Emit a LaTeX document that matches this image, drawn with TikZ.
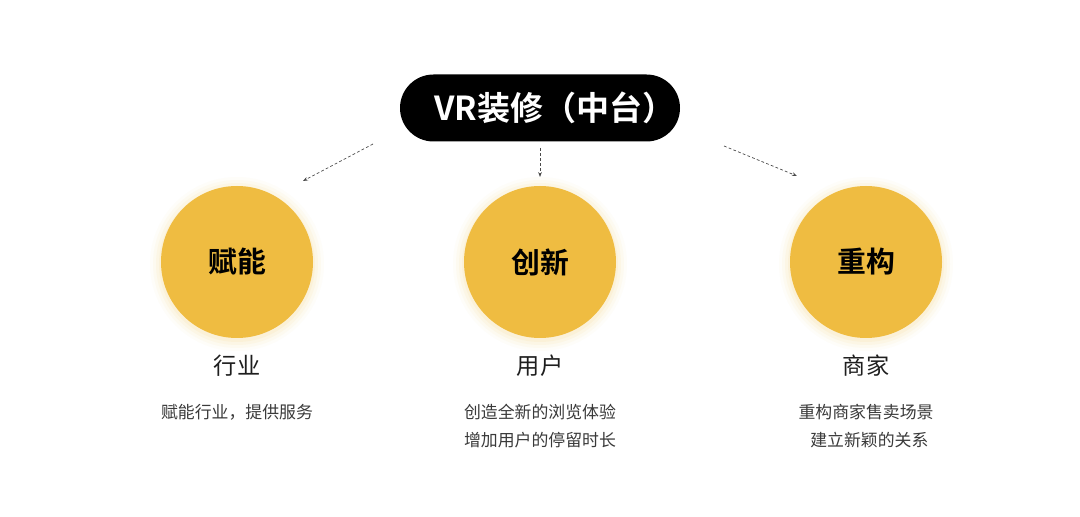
\documentclass[tikz,border=0pt]{standalone}
\usepackage{fontspec}
\setmainfont{Noto Sans CJK SC}[BoldFont={Noto Sans CJK SC Bold}]
\usetikzlibrary{arrows.meta}
\usetikzlibrary{positioning}

\definecolor{pillblack}{HTML}{000000}
\definecolor{goldfill}{HTML}{EFBC41}
\definecolor{glowfill}{HTML}{F6C65A}
\definecolor{labeltext}{HTML}{1E1E1E}
\definecolor{desctext}{HTML}{3A3A3A}
\definecolor{dashline}{HTML}{4A4A4A}

\tikzset{
	hub/.style={rectangle, rounded corners=33.5*0.025cm, fill=pillblack, text=white,
		minimum width=280*0.025cm, minimum height=67*0.025cm, inner sep=0pt,
		font=\bfseries\fontsize{23.5}{28}\selectfont},
	pillar/.style={circle, fill=goldfill, minimum size=152*0.025cm, inner sep=0pt,
		text=black, font=\bfseries\fontsize{20.5}{24}\selectfont},
	caption/.style={text=labeltext, font=\fontsize{16.5}{19}\selectfont},
	detail/.style={text=desctext, align=center, font=\fontsize{12}{19.9}\selectfont},
	link/.style={dashline, line width=0.5pt, dash pattern=on 2pt off 1.6pt, -{Stealth[length=3.5pt,width=2.6pt]}}
}

\begin{document}
\begin{tikzpicture}[x=0.025cm, y=-0.025cm]
	% 1080 x 517 canvas
	\useasboundingbox (0,0) rectangle (1080,517);
	\fill[white] (0,0) rectangle (1080,517);
	%%%%%%%%%%%%%%%
	%    GLOW     %
	%%%%%%%%%%%%%%%
	\foreach \cx in {237,540,866} {
		\foreach \r/\op in {87/0.03,84/0.05,81/0.07,78/0.09} {
			\fill[glowfill, opacity=\op] (\cx,264) circle (\r);
		}
	}
	%%%%%%%%%%%%%%%
	%    NODES    %
	%%%%%%%%%%%%%%%
	\node[hub] (vr) at (540,108) {\hspace{0.9em}VR装修（中台）};
	
	% left
	\node[pillar] (fuel) at (237,262) {赋能};
	\node[caption] (hangye) at (237,366) {行业};
	\node[detail] (fueldesc) at (237,412) {赋能行业，提供服务};
	
	% middle
	\node[pillar] (chuang) at (540,262) {创新};
	\node[caption] (yonghu) at (540,366) {用户};
	\node[detail] (chuangdesc) at (540,426) {创造全新的浏览体验\\增加用户的停留时长};
	
	% right
	\node[pillar] (chong) at (866,262) {重构};
	\node[caption] (shangjia) at (866,366) {商家};
	\node[detail] (chongdesc) at (866,426) {重构商家售卖场景\\\hspace{0.4em}建立新颖的关系};
	
	%%%%%%%%%%%%%%%
	% CONNECTIONS %
	%%%%%%%%%%%%%%%
	\coordinate (lstart) at (373,144);
	\coordinate (lend) at (303,181);
	\coordinate (mstart) at (540,148);
	\coordinate (mend) at (540,177);
	\coordinate (rstart) at (724,146);
	\coordinate (rend) at (797,176);
	
	\path[link] (lstart) edge (lend);
	\path[link] (mstart) edge (mend);
	\path[link] (rstart) edge (rend);
	
\end{tikzpicture}
\end{document}
